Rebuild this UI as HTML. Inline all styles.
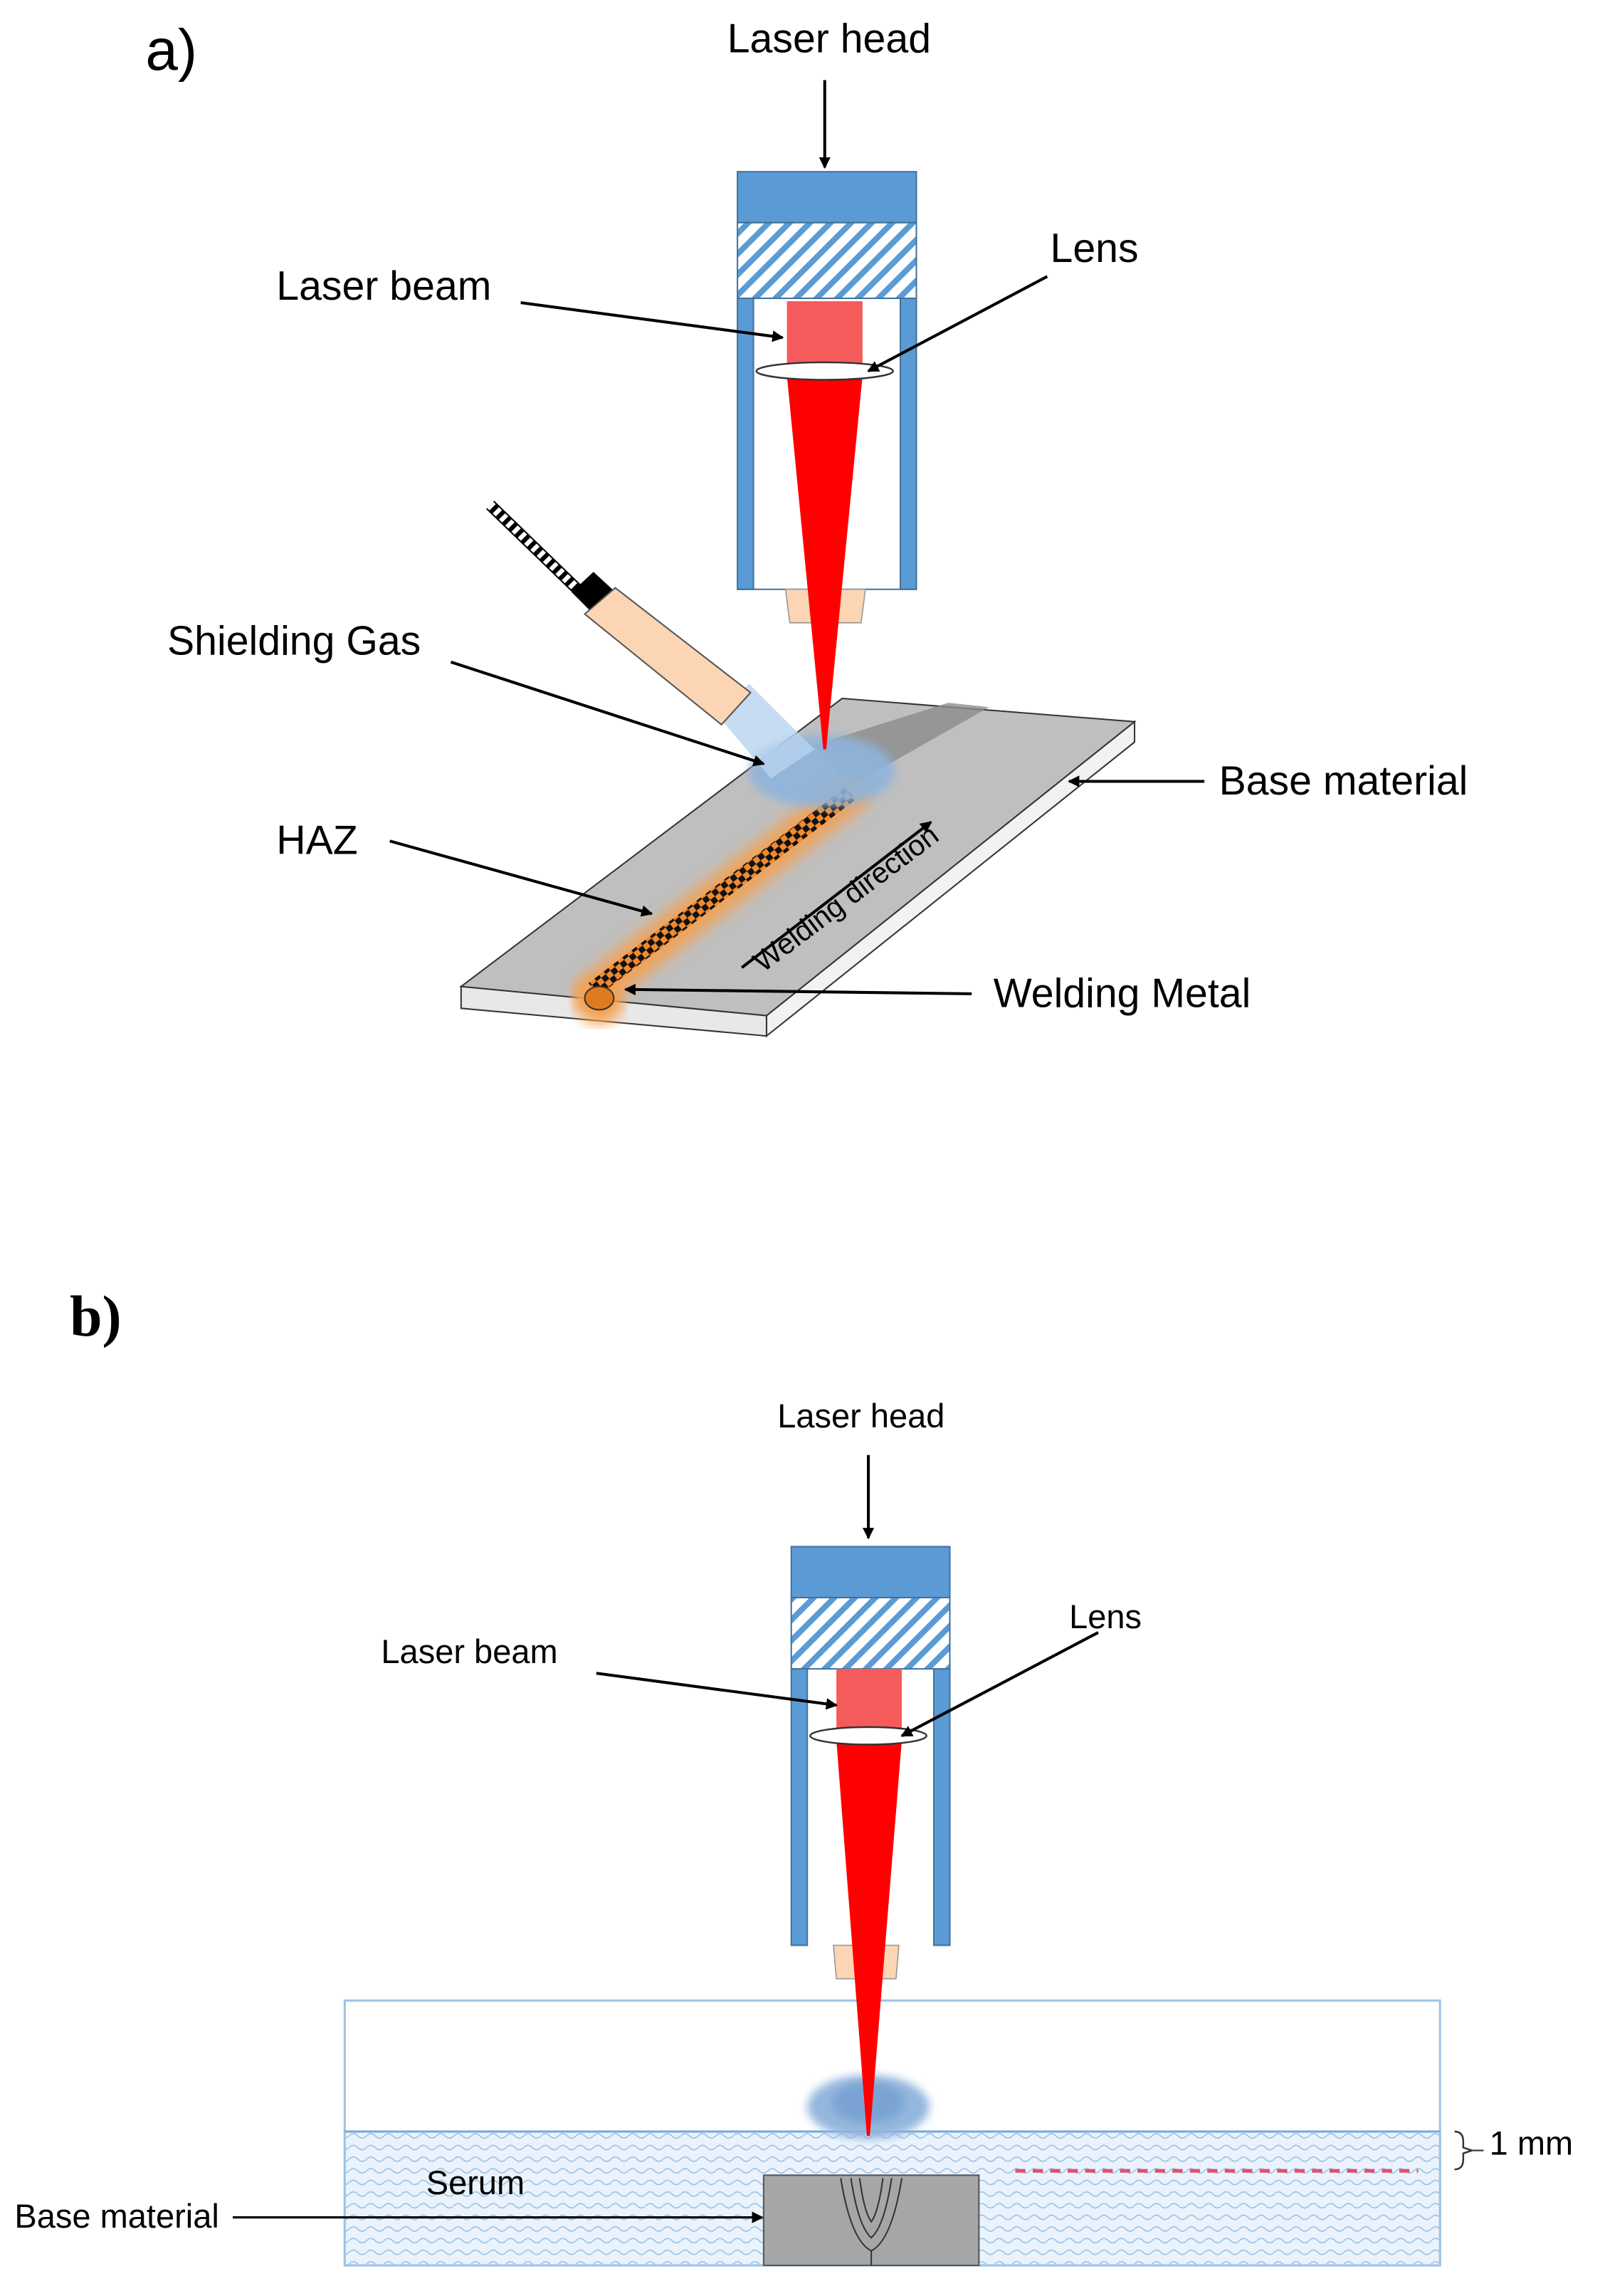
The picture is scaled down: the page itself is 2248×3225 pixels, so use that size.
<!DOCTYPE html>
<html><head><meta charset="utf-8"><style>html,body{margin:0;padding:0;background:#fff}svg{display:block}</style></head>
<body>
<svg width="2248" height="3225" viewBox="0 0 1100 1578" xmlns="http://www.w3.org/2000/svg" font-family="Liberation Sans, sans-serif">
<defs>
<pattern id="hatch" width="10" height="10" patternUnits="userSpaceOnUse" patternTransform="rotate(45)">
<rect width="10" height="10" fill="#fff"/><rect width="4" height="10" fill="#5b9bd5"/></pattern>
<pattern id="cable" width="6" height="6" patternUnits="userSpaceOnUse" patternTransform="rotate(45)">
<rect width="6" height="6" fill="#fff"/><rect width="3" height="6" fill="#000"/></pattern>
<pattern id="check" width="8" height="8" patternUnits="userSpaceOnUse" patternTransform="rotate(-38)">
<rect width="8" height="8" fill="#f08a30"/><rect width="4" height="4" fill="#111"/><rect x="4" y="4" width="4" height="4" fill="#111"/></pattern>
<pattern id="wave" width="12" height="8" patternUnits="userSpaceOnUse">
<rect width="12" height="8" fill="#eaf3fb"/><path d="M0 4 Q3 1 6 4 T12 4" fill="none" stroke="#9cc3e6" stroke-width="0.8"/></pattern>
<marker id="ah" markerWidth="8" markerHeight="8" refX="7" refY="4" orient="auto" markerUnits="userSpaceOnUse"><path d="M0,0 L8,4 L0,8 z" fill="#000"/></marker>
<filter id="blur"><feGaussianBlur stdDeviation="5"/></filter>
<filter id="blur2"><feGaussianBlur stdDeviation="3"/></filter>
</defs>

<!-- a) -->
<text x="100" y="48" font-size="40">a)</text>
<text x="570" y="36" font-size="28" text-anchor="middle">Laser head</text>
<line x1="567" y1="55" x2="567" y2="115" stroke="#000" stroke-width="2" marker-end="url(#ah)"/>

<!-- plate -->
<polygon points="317,678 527,698 527,712 317,693" fill="#e8e8e8" stroke="#333" stroke-width="1"/>
<polygon points="527,698 780,496 780,510 527,712" fill="#f2f2f2" stroke="#333" stroke-width="1"/>
<polygon points="317,678 579,480 780,496 527,698" fill="#bfbfbf" stroke="#333" stroke-width="1"/>
<polygon points="560,512 652,483 680,486 585,540" fill="#8c8c8c" opacity="0.8"/>
<!-- HAZ glow -->
<line x1="408" y1="682" x2="585" y2="545" stroke="#f5a050" stroke-width="26" stroke-linecap="round" filter="url(#blur)" opacity="0.9"/>
<circle cx="412" cy="688" r="16" fill="#f5a050" filter="url(#blur)"/>
<line x1="408" y1="680" x2="585" y2="545" stroke="url(#check)" stroke-width="11"/>
<ellipse cx="412" cy="686" rx="10" ry="8" fill="#e07a20" stroke="#333" stroke-width="1"/>
<!-- gas cloud -->
<ellipse cx="565" cy="530" rx="50" ry="25" fill="#8fb4dc" filter="url(#blur2)" opacity="0.9"/>
<polygon points="492,490 515,470 560,515 530,535" fill="#b8d3ef" opacity="0.8"/>

<!-- gas nozzle -->
<line x1="337" y1="347" x2="397" y2="405" stroke="#000" stroke-width="8"/>
<line x1="337" y1="347" x2="397" y2="405" stroke="url(#cable)" stroke-width="6"/>
<polygon points="393,407 408,393 421,405 406,420" fill="#000"/>
<polygon points="402,422 423,404 516,476 496,498" fill="#fcd5b4" stroke="#555" stroke-width="1"/>

<!-- head a -->
<rect x="507" y="118" width="123" height="35" fill="#5b9bd5" stroke="#41719c"/>
<rect x="507" y="153" width="123" height="52" fill="url(#hatch)" stroke="#41719c"/>
<rect x="507" y="205" width="11" height="200" fill="#5b9bd5" stroke="#41719c"/>
<rect x="619" y="205" width="11" height="200" fill="#5b9bd5" stroke="#41719c"/>
<line x1="507" y1="405" x2="630" y2="405" stroke="#41719c"/>
<polygon points="540,405 595,405 592,428 543,428" fill="#fcd5b4" stroke="#999" stroke-width="0.8"/>
<rect x="541" y="207" width="52" height="44" fill="#f55b5b"/>
<polygon points="541,258 593,258 568,515 566,515" fill="#ff0000"/>
<ellipse cx="567" cy="255" rx="47" ry="6" fill="#fff" stroke="#333" stroke-width="1.2"/>

<text x="190" y="206" font-size="28">Laser beam</text>
<line x1="358" y1="208" x2="538" y2="232" stroke="#000" stroke-width="2" marker-end="url(#ah)"/>
<text x="722" y="180" font-size="28">Lens</text>
<line x1="720" y1="190" x2="597" y2="255" stroke="#000" stroke-width="2" marker-end="url(#ah)"/>
<text x="115" y="450" font-size="28">Shielding Gas</text>
<line x1="310" y1="455" x2="525" y2="525" stroke="#000" stroke-width="2" marker-end="url(#ah)"/>
<text x="838" y="546" font-size="28">Base material</text>
<line x1="828" y1="537" x2="735" y2="537" stroke="#000" stroke-width="2" marker-end="url(#ah)"/>
<text x="190" y="587" font-size="28">HAZ</text>
<line x1="268" y1="578" x2="448" y2="628" stroke="#000" stroke-width="2" marker-end="url(#ah)"/>
<text x="683" y="692" font-size="28">Welding Metal</text>
<line x1="668" y1="683" x2="430" y2="680" stroke="#000" stroke-width="2" marker-end="url(#ah)"/>
<line x1="510" y1="665" x2="640" y2="565" stroke="#000" stroke-width="2" marker-end="url(#ah)"/>
<text x="582" y="624" font-size="20" text-anchor="middle" transform="rotate(-37 582 618)">Welding direction</text>

<!-- b) -->
<text x="48" y="918" font-size="40" font-weight="bold" font-family="Liberation Serif, serif">b)</text>
<line x1="597" y1="1000" x2="597" y2="1057" stroke="#000" stroke-width="2" marker-end="url(#ah)"/>

<!-- container -->
<rect x="237" y="1375" width="753" height="182" fill="#fff" stroke="#9dc3e6" stroke-width="1.5"/>
<rect x="237" y="1465" width="753" height="92" fill="url(#wave)" stroke="#9dc3e6" stroke-width="1.5"/>
<line x1="237" y1="1465" x2="990" y2="1465" stroke="#7aa7d6" stroke-width="1.5"/>
<rect x="525" y="1495" width="148" height="62" fill="#a6a6a6" stroke="#555" stroke-width="1"/>
<g fill="none" stroke="#333" stroke-width="1">
<path d="M578 1497 Q585 1540 599 1547 Q613 1540 620 1497"/>
<path d="M585 1497 Q590 1530 599 1538 Q608 1530 613 1497"/>
<path d="M591 1497 Q594 1520 599 1527 Q604 1520 607 1497"/>
<line x1="599" y1="1547" x2="599" y2="1557"/>
</g>
<line x1="698" y1="1492" x2="975" y2="1492" stroke="#e05070" stroke-width="2.5" stroke-dasharray="7,5"/>
<path d="M1000 1465 Q1006 1465 1006 1472 L1006 1476 L1012 1478 L1006 1480 L1006 1484 Q1006 1491 1000 1491" fill="none" stroke="#333" stroke-width="1.2"/>
<line x1="1012" y1="1478" x2="1020" y2="1478" stroke="#333" stroke-width="1"/>
<ellipse cx="597" cy="1448" rx="42" ry="22" fill="#8fb4dc" filter="url(#blur2)" opacity="0.95"/>
<ellipse cx="597" cy="1445" rx="25" ry="14" fill="#6f9bcf" filter="url(#blur2)" opacity="0.7"/>
<line x1="160" y1="1524" x2="524" y2="1524" stroke="#000" stroke-width="1.5" marker-end="url(#ah)"/>

<!-- head b -->
<rect x="544" y="1063" width="109" height="35" fill="#5b9bd5" stroke="#41719c"/>
<rect x="544" y="1098" width="109" height="49" fill="url(#hatch)" stroke="#41719c"/>
<rect x="544" y="1147" width="11" height="190" fill="#5b9bd5" stroke="#41719c"/>
<rect x="642" y="1147" width="11" height="190" fill="#5b9bd5" stroke="#41719c"/>
<polygon points="573,1337 618,1337 616,1360 575,1360" fill="#fcd5b4" stroke="#999" stroke-width="0.8"/>
<rect x="575" y="1147" width="45" height="45" fill="#f55b5b"/>
<polygon points="575,1196 620,1196 598,1468 596,1468" fill="#ff0000"/>
<ellipse cx="597" cy="1193" rx="40" ry="6" fill="#fff" stroke="#333" stroke-width="1.2"/>
<line x1="410" y1="1150" x2="575" y2="1172" stroke="#000" stroke-width="2" marker-end="url(#ah)"/>
<line x1="755" y1="1122" x2="620" y2="1193" stroke="#000" stroke-width="2" marker-end="url(#ah)"/>

<g font-size="23" font-family="Liberation Sans Narrow, Liberation Sans, sans-serif">
<text x="592" y="981" text-anchor="middle">Laser head</text>
<text x="262" y="1143">Laser beam</text>
<text x="735" y="1119">Lens</text>
<text x="293" y="1508">Serum</text>
<text x="10" y="1531">Base material</text>
<text x="1024" y="1481">1 mm</text>
</g>
</svg>
</body></html>
